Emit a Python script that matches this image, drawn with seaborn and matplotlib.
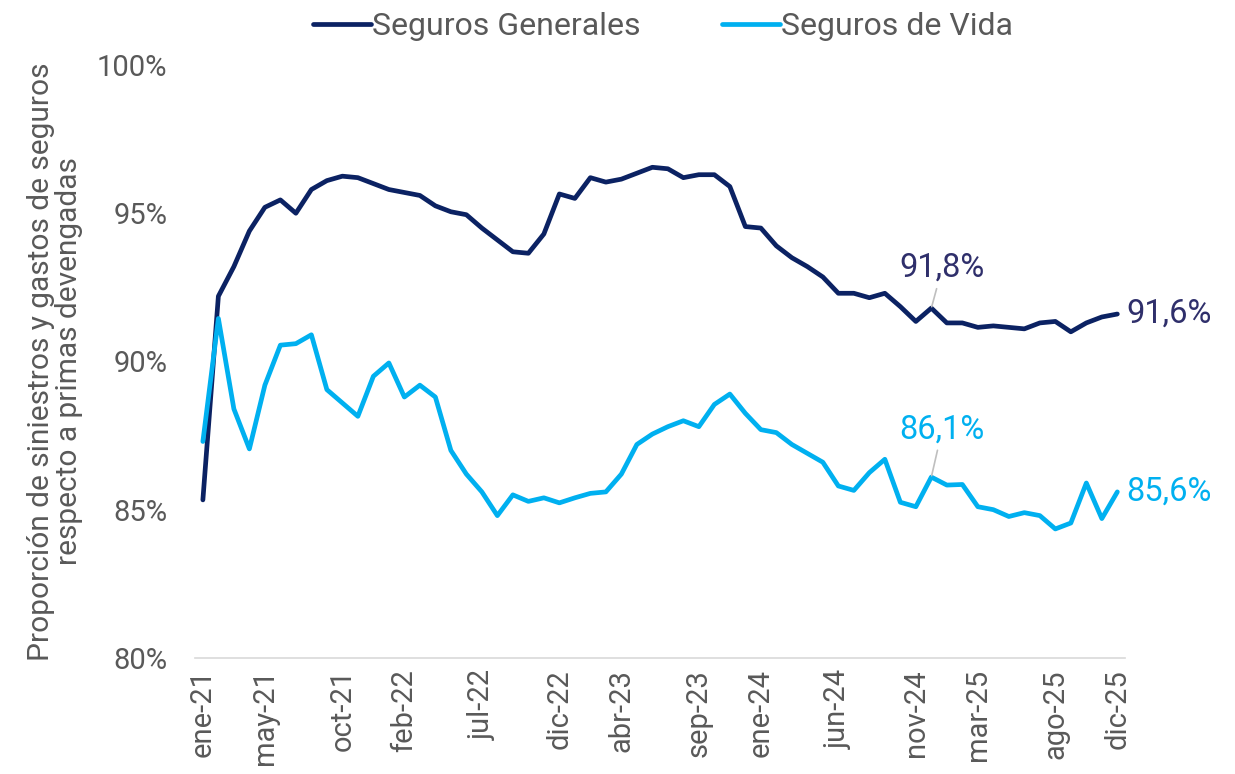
import matplotlib
matplotlib.use("Agg")
import matplotlib.pyplot as plt
import seaborn as sns
import pandas as pd

# datos mensuales ene-21 .. dic-25 (60 meses), en %
generales = [85.33, 92.2, 93.2, 94.4, 95.2, 95.45, 95.0, 95.8, 96.1, 96.25,
             96.2, 96.0, 95.8, 95.7, 95.6, 95.25, 95.05, 94.95, 94.5, 94.1,
             93.7, 93.65, 94.3, 95.65, 95.5, 96.2, 96.05, 96.15, 96.35, 96.55,
             96.5, 96.2, 96.3, 96.3, 95.9, 94.55, 94.5, 93.9, 93.5, 93.2,
             92.85, 92.3, 92.3, 92.15, 92.3, 91.85, 91.35, 91.8, 91.3, 91.3,
             91.15, 91.2, 91.15, 91.1, 91.3, 91.35, 91.0, 91.3, 91.5, 91.6]
vida = [87.3, 91.45, 88.4, 87.05, 89.2, 90.55, 90.6, 90.9, 89.05, 88.6,
        88.15, 89.5, 89.95, 88.8, 89.2, 88.8, 87.0, 86.2, 85.6, 84.8,
        85.5, 85.28, 85.4, 85.23, 85.4, 85.55, 85.6, 86.2, 87.2, 87.55,
        87.8, 88.0, 87.8, 88.55, 88.9, 88.25, 87.7, 87.6, 87.2, 86.9,
        86.6, 85.8, 85.65, 86.25, 86.7, 85.25, 85.1, 86.1, 85.83, 85.85,
        85.1, 85.0, 84.77, 84.9, 84.8, 84.35, 84.55, 85.9, 84.7, 85.6]
meses = list(range(len(generales)))

tick_pos = [0, 4, 9, 13, 18, 23, 27, 32, 36, 41, 46, 50, 55, 59]
tick_lab = ["ene-21", "may-21", "oct-21", "feb-22", "jul-22", "dic-22", "abr-23",
            "sep-23", "ene-24", "jun-24", "nov-24", "mar-25", "ago-25", "dic-25"]
y_ticks = [80, 85, 90, 95, 100]

serie_nombres = ["Seguros Generales", "Seguros de Vida"]
colores = ["#0B2263", "#00B0F0"]

df = pd.DataFrame({
    "mes": meses * 2,
    "valor": generales + vida,
    "serie": [serie_nombres[0]] * len(generales) + [serie_nombres[1]] * len(vida),
})

sns.set_theme(style="white")
plt.rcParams["font.family"] = ["Roboto", "DejaVu Sans"]
gris = "#595959"

fig = plt.figure(figsize=(12.35, 7.74), dpi=100)
ax = fig.add_axes([0.158, 0.150, 0.753, 0.766])

sns.lineplot(data=df, x="mes", y="valor", hue="serie", palette=colores,
             linewidth=3.4, ax=ax, legend=False)
for ln in ax.get_lines():
    ln.set_solid_joinstyle("round")
    ln.set_solid_capstyle("round")

ax.set_xlim(-0.5, 59.5)
ax.set_ylim(80, 100)
ax.set_yticks(y_ticks)
ax.set_yticklabels([f"{v}%" for v in y_ticks], color=gris, fontsize=21)
ax.set_xticks(tick_pos)
ax.set_xticklabels(tick_lab, rotation=90, color=gris, fontsize=21)
ax.tick_params(axis="y", length=0, pad=20)
ax.tick_params(axis="x", length=0, pad=8)
ax.set_xlabel("")
ax.set_ylabel("Proporción de siniestros y gastos de seguros\nrespecto a primas devengadas",
              color=gris, fontsize=21.5, labelpad=10, linespacing=1.0)

for s in ["top", "right", "left"]:
    ax.spines[s].set_visible(False)
ax.spines["bottom"].set_color("#D9D9D9")
ax.spines["bottom"].set_linewidth(1.2)

# etiquetas
oscuro = "#2F2F6B"
ax.text(59.6, generales[-1], "91,6%", color=oscuro, fontsize=23.5,
        ha="left", va="center", clip_on=False)
ax.text(59.6, vida[-1], "85,6%", color=colores[1], fontsize=23.5,
        ha="left", va="center", clip_on=False)
ax.annotate("91,8%", xy=(47, generales[47]), xytext=(47.7, 93.15),
            color=oscuro, fontsize=23.5, ha="center", va="center",
            arrowprops=dict(arrowstyle="-", color="#BFBFBF", lw=1.2, shrinkA=1, shrinkB=1))
ax.annotate("86,1%", xy=(47, vida[47]), xytext=(47.7, 87.7),
            color=colores[1], fontsize=23.5, ha="center", va="center",
            arrowprops=dict(arrowstyle="-", color="#BFBFBF", lw=1.2, shrinkA=1, shrinkB=1))

handles = [plt.Line2D([], [], color=c, lw=3.4) for c in colores]
fig.legend(handles, serie_nombres, loc="upper center", bbox_to_anchor=(0.537, 1.022),
           ncol=2, frameon=False, fontsize=23, handlelength=1.8, handletextpad=0.05,
           columnspacing=2.55, labelcolor=gris)

fig.savefig("out.png", dpi=100)
